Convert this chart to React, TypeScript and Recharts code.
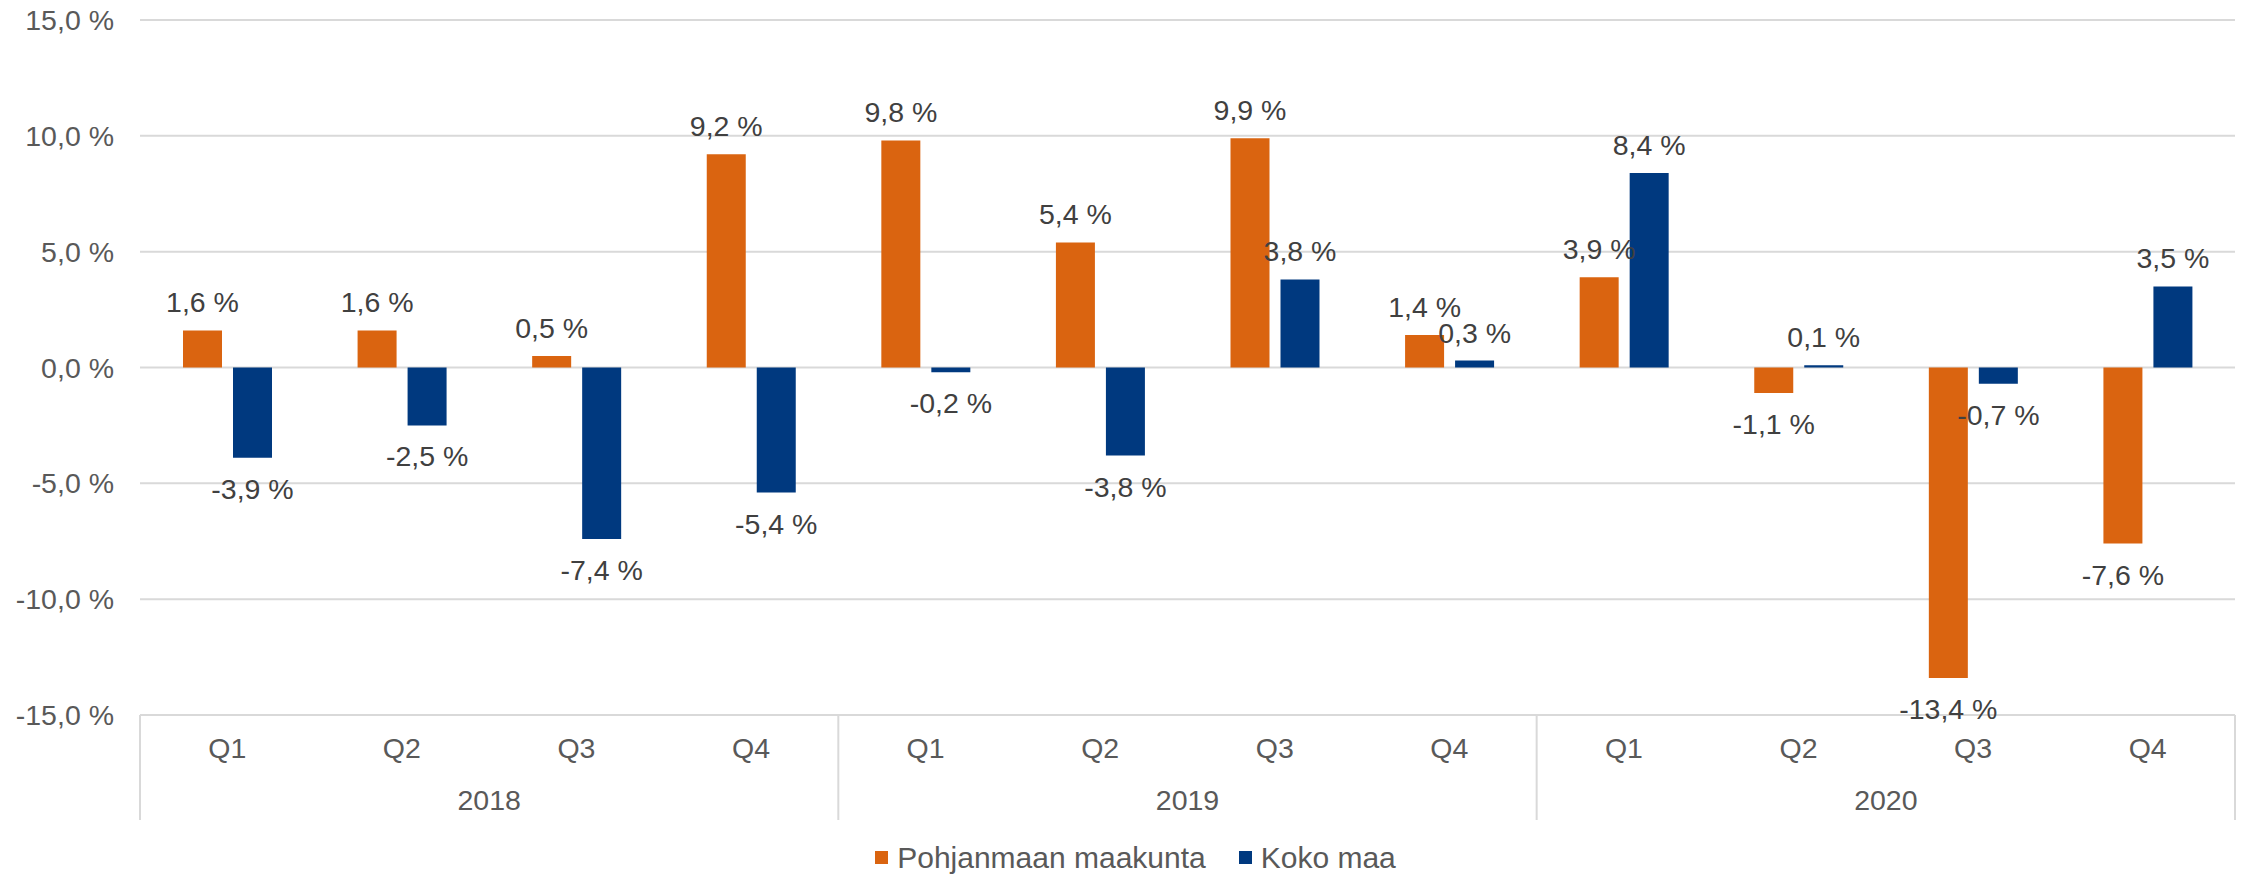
import { BarChart, Bar, XAxis, YAxis, CartesianGrid, Legend } from "recharts";

const quarters = ["Q1", "Q2", "Q3", "Q4", "Q1", "Q2", "Q3", "Q4", "Q1", "Q2", "Q3", "Q4"];
const years = ["2018", "2018", "2018", "2018", "2019", "2019", "2019", "2019", "2020", "2020", "2020", "2020"];
const pohjanmaa = [1.6, 1.6, 0.5, 9.2, 9.8, 5.4, 9.9, 1.4, 3.9, -1.1, -13.4, -7.6];
const kokoMaa = [-3.9, -2.5, -7.4, -5.4, -0.2, -3.8, 3.8, 0.3, 8.4, 0.1, -0.7, 3.5];
const seriesNames = ["Pohjanmaan maakunta", "Koko maa"];
const yTicks = [-15, -10, -5, 0, 5, 10, 15];

const W = 2251;
const H = 874;
const FONT = '"Liberation Sans", Arial, sans-serif';
const ORANGE = "#DA6410";
const BLUE = "#00397F";
const GRID = "#d9d9d9";
const PLOT_W = W - 140 - 16;

const data = quarters.map((q, i) => ({
  q,
  year: years[i],
  pohjanmaa: pohjanmaa[i],
  koko: kokoMaa[i],
}));

// "1,6 %" style, Finnish decimal comma
const fmt = (v: number) => `${v.toFixed(1).replace(".", ",")} %`;

const renderLabel = (p: any) => {
  const vb = p.viewBox || p;
  const x = Number(vb.x ?? p.x);
  const y = Number(vb.y ?? p.y);
  const w = Number(vb.width ?? p.width);
  const h = Number(vb.height ?? p.height);
  const v = Number(p.value);
  const top = Math.min(y, y + h);
  const bottom = Math.max(y, y + h);
  const ty = v >= 0 ? top - 18 : bottom + 41;
  return (
    <text x={x + w / 2} y={ty} textAnchor="middle" fill="#404040" fontSize={28.5} fontFamily={FONT}>
      {fmt(v)}
    </text>
  );
};

const QuarterTick = (p: any) => (
  <text x={p.x} y={p.y + 35} textAnchor="middle" fill="#595959" fontSize={28.5} fontFamily={FONT}>
    {p.payload.value}
  </text>
);

const YearTick = (p: any) => {
  const off = p.payload.offset || PLOT_W / 6;
  const y0 = p.y - 8 - 60;
  const y1 = p.y + 37;
  const last = p.index === (p.visibleTicksCount ?? 3) - 1;
  return (
    <g>
      <line x1={p.x - off} x2={p.x - off} y1={y0} y2={y1} stroke={GRID} strokeWidth={2} />
      {last && <line x1={p.x + off} x2={p.x + off} y1={y0} y2={y1} stroke={GRID} strokeWidth={2} />}
      <text x={p.x} y={p.y + 27} textAnchor="middle" fill="#595959" fontSize={28.5} fontFamily={FONT}>
        {p.payload.value}
      </text>
    </g>
  );
};

const legendColors = [ORANGE, BLUE];

const renderLegend = () => (
  <div
    style={{
      display: "flex",
      justifyContent: "center",
      alignItems: "center",
      height: 49,
      paddingTop: 16,
      boxSizing: "border-box",
      fontFamily: FONT,
      fontSize: 30,
      color: "#595959",
      paddingLeft: 36,
    }}
  >
    {seriesNames.map((name, i) => (
      <div key={name} style={{ display: "flex", alignItems: "center", marginLeft: i ? 33 : 0 }}>
        <span style={{ width: 13, height: 13, background: legendColors[i], marginRight: 9, display: "inline-block" }} />
        <span>{name}</span>
      </div>
    ))}
  </div>
);

export default function App() {
  return (
    <div style={{ width: W, height: H, background: "#fff" }}>
      <style>{"body{margin:0}"}</style>
      <BarChart
        width={W}
        height={H}
        data={data}
        margin={{ top: 20, right: 16, bottom: 0, left: 0 }}
        barSize={39}
        barGap={11}
      >
        <CartesianGrid vertical={false} stroke={GRID} strokeWidth={2} />
        <YAxis
          width={140}
          domain={[-15, 15]}
          ticks={yTicks}
          tickFormatter={fmt}
          axisLine={false}
          tickLine={false}
          tickMargin={20}
          tick={{ fill: "#595959", fontSize: 28.5, fontFamily: FONT }}
        />
        <XAxis dataKey="q" axisLine={false} tickLine={false} height={60} interval={0} tick={<QuarterTick />} />
        <XAxis
          xAxisId="year"
          dataKey="year"
          allowDuplicatedCategory={false}
          axisLine={false}
          tickLine={false}
          height={50}
          interval={0}
          tick={<YearTick />}
        />
        <Legend verticalAlign="bottom" height={49} content={renderLegend} />
        <Bar dataKey="pohjanmaa" name={seriesNames[0]} fill={ORANGE} isAnimationActive={false} label={renderLabel} />
        <Bar dataKey="koko" name={seriesNames[1]} fill={BLUE} isAnimationActive={false} label={renderLabel} />
      </BarChart>
    </div>
  );
}
